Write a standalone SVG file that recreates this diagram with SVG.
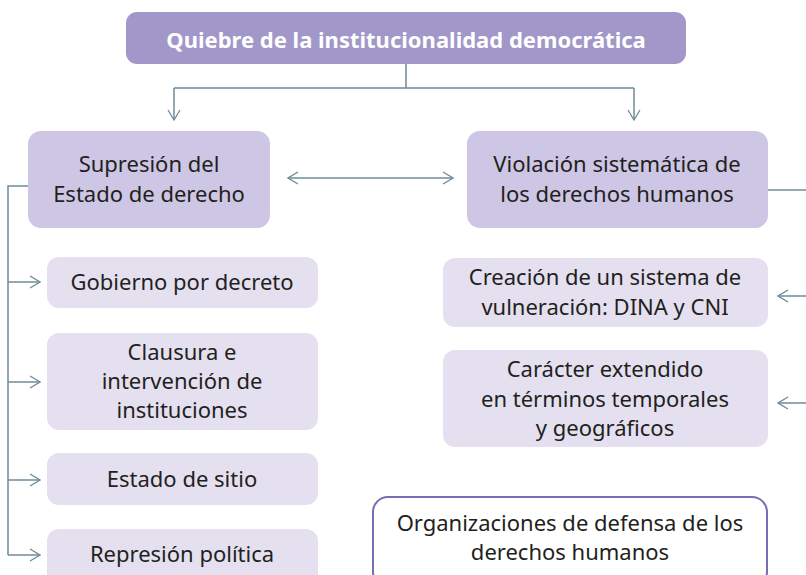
<svg xmlns="http://www.w3.org/2000/svg" width="806" height="575" viewBox="0 0 806 575">
<style>
.t{font-family:"Noto Sans","Open Sans","DejaVu Sans",sans-serif;font-size:22px;fill:#231f20;text-anchor:middle}
.title{font-family:"Noto Sans","Open Sans","DejaVu Sans",sans-serif;font-size:22px;font-weight:bold;fill:#ffffff;text-anchor:middle}
.main{fill:#cdc6e4}
.sub{fill:#e4e0f0}
.c{fill:none;stroke:#6e8c99;stroke-width:1.5}
</style>
<defs>
<marker id="ah" viewBox="0 0 12 14" refX="11" refY="7" markerWidth="12" markerHeight="14" markerUnits="userSpaceOnUse" orient="auto-start-reverse">
<path d="M1 1 L11 7 L1 13" fill="none" stroke="#6e8c99" stroke-width="1.3"/>
</marker>
</defs>
<g id="connectors">
<path class="c" d="M406 64 V88 M174 88 H634"/>
<path class="c" d="M174 88 V120" marker-end="url(#ah)"/>
<path class="c" d="M634 88 V120" marker-end="url(#ah)"/>
<path class="c" d="M288 178 H453" marker-start="url(#ah)" marker-end="url(#ah)"/>
<path class="c" d="M28 186 H8 V555"/>
<path class="c" d="M8 282 H40" marker-end="url(#ah)"/>
<path class="c" d="M8 382 H40" marker-end="url(#ah)"/>
<path class="c" d="M8 480 H40" marker-end="url(#ah)"/>
<path class="c" d="M8 555 H40" marker-end="url(#ah)"/>
<path class="c" d="M768 190 H806"/>
<path class="c" d="M806 296 H778" marker-end="url(#ah)"/>
<path class="c" d="M806 403 H778" marker-end="url(#ah)"/>
</g>
<g id="n-quiebre">
<rect x="126" y="12" width="560" height="52" rx="11" fill="#a197c8"/>
<text class="title" x="406" y="48">Quiebre de la institucionalidad democrática</text>
</g>
<g id="n-supresion">
<rect class="main" x="28" y="131" width="242" height="97" rx="13"/>
<text class="t" x="149" y="172">Supresión del</text>
<text class="t" x="149" y="202">Estado de derecho</text>
</g>
<g id="n-violacion">
<rect class="main" x="467" y="131" width="301" height="97" rx="13"/>
<text class="t" x="617" y="172">Violación sistemática de</text>
<text class="t" x="617" y="202">los derechos humanos</text>
</g>
<g id="n-gobierno">
<rect class="sub" x="47" y="257" width="271" height="51" rx="12"/>
<text class="t" x="182" y="290">Gobierno por decreto</text>
</g>
<g id="n-clausura">
<rect class="sub" x="47" y="333" width="271" height="97" rx="12"/>
<text class="t" x="182" y="360">Clausura e</text>
<text class="t" x="182" y="389">intervención de</text>
<text class="t" x="182" y="418">instituciones</text>
</g>
<g id="n-estado">
<rect class="sub" x="47" y="453" width="271" height="52" rx="12"/>
<text class="t" x="182" y="487">Estado de sitio</text>
</g>
<g id="n-represion">
<rect class="sub" x="47" y="529" width="271" height="56" rx="12"/>
<text class="t" x="182" y="562">Represión política</text>
</g>
<g id="n-creacion">
<rect class="sub" x="443" y="258" width="325" height="69" rx="12"/>
<text class="t" x="605" y="285">Creación de un sistema de</text>
<text class="t" x="605" y="315">vulneración: DINA y CNI</text>
</g>
<g id="n-caracter">
<rect class="sub" x="443" y="350" width="325" height="97" rx="12"/>
<text class="t" x="605" y="377">Carácter extendido</text>
<text class="t" x="605" y="407">en términos temporales</text>
<text class="t" x="605" y="436">y geográficos</text>
</g>
<g id="n-organizaciones">
<rect x="373" y="497" width="394" height="90" rx="15" fill="#ffffff" stroke="#7b6bb5" stroke-width="2"/>
<text class="t" x="570" y="531">Organizaciones de defensa de los</text>
<text class="t" x="570" y="560">derechos humanos</text>
</g>
</svg>
